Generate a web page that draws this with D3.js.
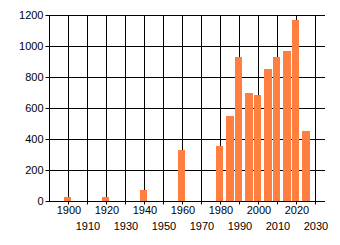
<!DOCTYPE html>
<html><head><meta charset="utf-8">
<script src="https://cdn.jsdelivr.net/npm/d3@7"></script>
<style>html,body{margin:0;padding:0;background:#fff;}svg{display:block;}</style>
</head><body>
<script>
const years = [1900, 1920, 1940, 1960, 1980, 1985, 1990, 1995, 2000, 2005, 2010, 2015, 2020, 2025];
const values = [32, 32, 71, 335, 355, 550, 930, 703, 690, 858, 935, 968, 1168, 458];
const xTicks = [1900, 1910, 1920, 1930, 1940, 1950, 1960, 1970, 1980, 1990, 2000, 2010, 2020, 2030];
const yTicks = [0, 200, 400, 600, 800, 1000, 1200];

const W = 340, H = 245;
const svg = d3.select("body").append("svg").attr("width", W).attr("height", H);
const x = d3.scaleLinear().domain([1890, 2035]).range([49.5, 325]);
const y = d3.scaleLinear().domain([0, 1200]).range([201.5, 15.5]);
const font = "'Liberation Sans', Arial, sans-serif";

// grid
const g = svg.append("g");
g.selectAll("line.v").data(xTicks).enter().append("line")
  .attr("x1", d => Math.round(x(d) - 0.5) + 0.5).attr("x2", d => Math.round(x(d) - 0.5) + 0.5)
  .attr("y1", y(1200)).attr("y2", y(0) + 3)
  .attr("stroke", "#000").attr("stroke-width", 1);
g.selectAll("line.h").data(yTicks).enter().append("line")
  .attr("x1", x(1890) - 4).attr("x2", x(2035))
  .attr("y1", d => y(d)).attr("y2", d => y(d))
  .attr("stroke", "#000").attr("stroke-width", 1);
// left axis line
g.append("line").attr("x1", x(1890)).attr("x2", x(1890)).attr("y1", y(1200)).attr("y2", y(0))
  .attr("stroke", "#000");

// bars
svg.selectAll("rect.bar").data(years).enter().append("rect")
  .attr("x", d => Math.round(x(d) - 4.5))
  .attr("width", d => Math.round(x(d + 4.2)) - Math.round(x(d)))
  .attr("y", (d, i) => Math.round(y(values[i])))
  .attr("height", (d, i) => Math.round(y(0) - 0.5) - Math.round(y(values[i])))
  .attr("fill", "#ff7f40");

// y labels
svg.selectAll("text.y").data(yTicks).enter().append("text")
  .attr("x", 43.5).attr("y", d => y(d) + 3.5)
  .attr("text-anchor", "end").attr("font-family", font).attr("font-size", 11)
  .attr("fill", "#000").text(d => d);

// x labels
svg.selectAll("text.x").data(xTicks).enter().append("text")
  .attr("x", d => x(d) + 0.5).attr("y", (d, i) => i % 2 === 0 ? 214 : 230)
  .attr("text-anchor", "middle").attr("font-family", font).attr("font-size", 11)
  .attr("fill", "#000").text(d => d);
</script>
</body></html>
